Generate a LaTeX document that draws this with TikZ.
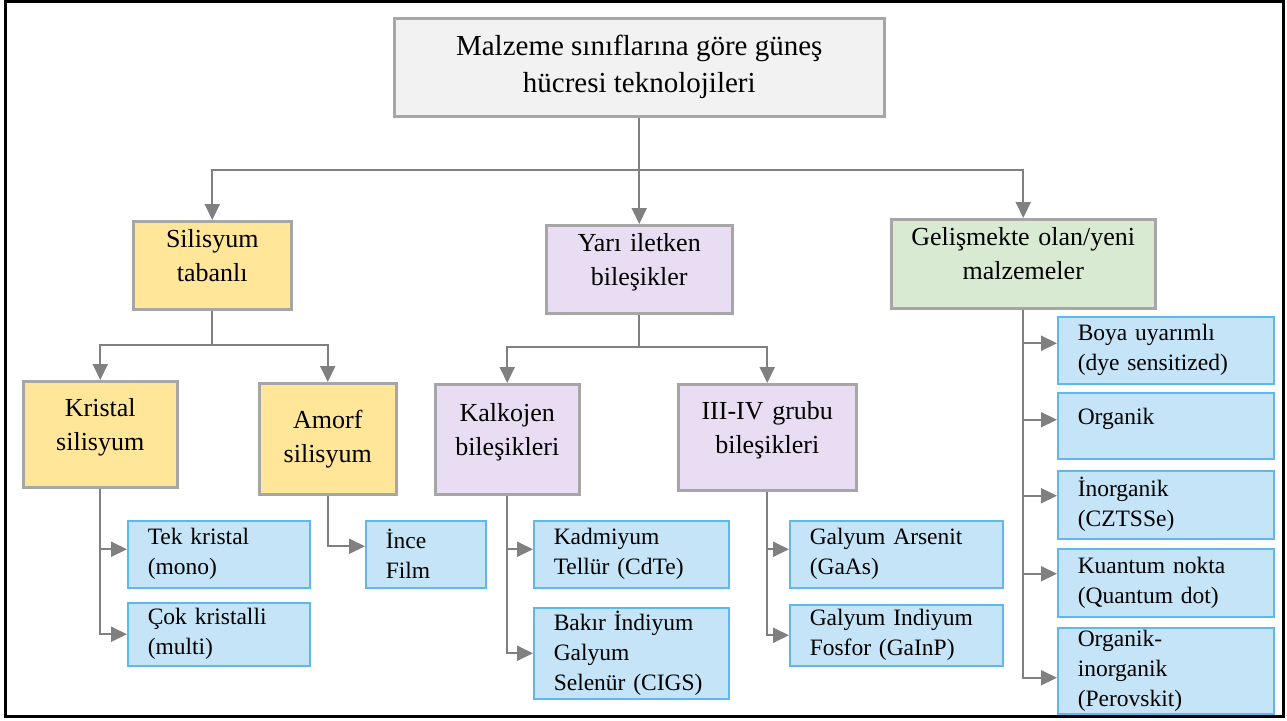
\documentclass[tikz,border=0pt]{standalone}
\usepackage{fontspec}
\setmainfont{Liberation Serif}
\usetikzlibrary{arrows.meta}
\definecolor{topfill}{RGB}{242,242,242}
\definecolor{silfill}{RGB}{255,230,153}
\definecolor{yarfill}{RGB}{232,221,242}
\definecolor{gelfill}{RGB}{217,234,211}
\definecolor{leaffill}{RGB}{197,228,247}
\definecolor{leafline}{RGB}{93,185,235}
\definecolor{boxline}{RGB}{166,166,166}
\definecolor{lineclr}{RGB}{128,128,128}

\begin{document}
\begin{tikzpicture}[x=1pt,y=-1pt,
	box/.style={draw=boxline,line width=2.5pt,align=center,anchor=north west,inner sep=0pt,
		font=\fontsize{26}{34}\selectfont},
	topbox/.style={box,fill=topfill,font=\fontsize{29}{37}\selectfont},
	midbox/.style 2 args={box,fill=#1,text width=#2,execute at end node={\\[-14pt]\mbox{}}},
	leaf/.style={draw=leafline,line width=1.5pt,fill=leaffill,anchor=north west,align=left,
		inner xsep=20pt,inner ysep=0pt,text width=#1,font=\fontsize{23.5}{30}\selectfont},
	line/.style={draw=lineclr,line width=2pt},
	conn/.style={line,-{Triangle[length=16pt,width=15pt]}}]
\useasboundingbox (0,0) rectangle (1287,720);
\draw[line width=3pt] (5,1.5) rectangle (1283.5,716.5);

\node[topbox,minimum width=490pt,minimum height=98pt] (top) at (393,17)
	{Malzeme sınıflarına göre güneş\\hücresi teknolojileri};

\node[midbox={silfill}{158pt},minimum height=88pt] (sil) at (132,220) {Silisyum\\tabanlı};
\node[midbox={yarfill}{186pt},minimum height=88pt] (yar) at (545,224) {Yarı iletken\\bileşikler};
\node[midbox={gelfill}{264pt},minimum height=89pt] (gel) at (890,218) {Gelişmekte olan/yeni\\malzemeler};

\node[midbox={silfill}{154pt},minimum height=106pt] (kris) at (22,380) {Kristal\\silisyum};
\node[box,fill=silfill,text width=137pt,minimum height=111pt] (amorf) at (258,382) {Amorf\\silisyum};
\node[midbox={yarfill}{144pt},minimum height=110pt] (kalk) at (434,383) {Kalkojen\\bileşikleri};
\node[midbox={yarfill}{178pt},minimum height=106pt] (iiiv) at (677,383) {III-IV grubu\\bileşikleri};

\node[leaf=142pt,minimum height=67pt] (tek) at (127,520) {Tek kristal\\(mono)};
\node[leaf=142pt,minimum height=63pt] (cok) at (127,602) {Çok kristalli\\(multi)};
\node[leaf=80pt,minimum height=67pt] (ince) at (365,520) {İnce\\Film};
\node[leaf=155pt,minimum height=67pt] (kad) at (533,520) {Kadmiyum\\Tellür (CdTe)};
\node[leaf=155pt,minimum height=91pt] (cigs) at (533,607) {Bakır İndiyum\\Galyum\\Selenür (CIGS)};
\node[leaf=173pt,minimum height=67pt] (gaas) at (789,520) {Galyum Arsenit\\(GaAs)};
\node[leaf=173pt,minimum height=61pt] (gainp) at (789,604) {Galyum Indiyum\\Fosfor (GaInP)};

\node[leaf=176pt,minimum height=67pt] (boya) at (1057,316) {Boya uyarımlı\\(dye sensitized)};
\node[leaf=176pt,minimum height=66pt] (org) at (1057,392) {Organik\\[-12pt]\mbox{}};
\node[leaf=176pt,minimum height=68pt] (inorg) at (1057,470) {İnorganik\\(CZTSSe)};
\node[leaf=176pt,minimum height=68pt] (kuan) at (1057,548) {Kuantum nokta\\(Quantum dot)};
\node[leaf=176pt,minimum height=86pt] (perov) at (1057,627) {Organik-\\inorganik\\(Perovskit)};

\coordinate (j1) at (top.south |- 0,170);
\coordinate (j2) at (sil.south |- 0,345);
\coordinate (j3) at (yar.south |- 0,347);

\draw[line] (top.south) -- (j1);
\draw[conn] (j1) -| (sil.north);
\draw[conn] (j1) -- (yar.north);
\draw[conn] (j1) -| (gel.north);

\draw[line] (sil.south) -- (j2);
\draw[conn] (j2) -| (kris.north);
\draw[conn] (j2) -| (amorf.north);

\draw[line] (yar.south) -- (j3);
\draw[conn] (j3) -| (kalk.north);
\draw[conn] (j3) -| (iiiv.north);

\draw[conn] (kris.south) |- ([yshift=5pt]tek.west);
\draw[conn] (kris.south) |- (cok.west);
\draw[conn] (amorf.south) |- ([yshift=8pt]ince.west);
\draw[conn] (kalk.south) |- ([yshift=5pt]kad.west);
\draw[conn] (kalk.south) |- (cigs.west);
\draw[conn] (iiiv.south) |- ([yshift=5pt]gaas.west);
\draw[conn] (iiiv.south) |- (gainp.west);

\draw[conn] (gel.south) |- ([yshift=7pt]boya.west);
\draw[conn] (gel.south) |- ([yshift=6pt]org.west);
\draw[conn] (gel.south) |- ([yshift=9pt]inorg.west);
\draw[conn] (gel.south) |- ([yshift=9pt]kuan.west);
\draw[conn] (gel.south) |- ([yshift=-7pt]perov.west);
\end{tikzpicture}
\end{document}
